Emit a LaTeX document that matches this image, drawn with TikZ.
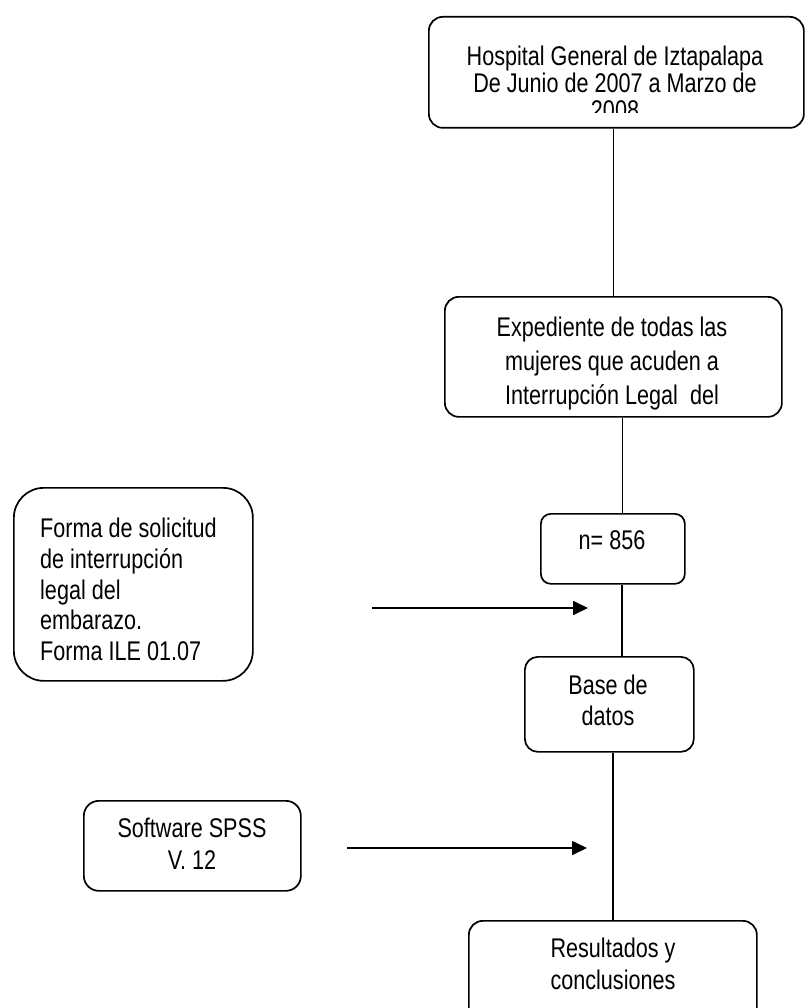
\documentclass[tikz,border=0pt]{standalone}
\usepackage{fontspec}
\setmainfont{Liberation Sans}[FakeStretch=0.80]
\usetikzlibrary{arrows.meta}
\begin{document}
\begin{tikzpicture}[x=1pt,y=-1pt,
  box/.style={draw, line width=1.7pt, rounded corners=#1, inner sep=0pt,
    anchor=north west},
  box/.default=13pt,
  txt/.style={inner sep=0pt, anchor=north, align=center,
    font=\fontsize{27}{#1}\selectfont},
  txt/.default=33,
  wire/.style={line width=1.7pt},
  feed/.style={line width=1.7pt, -{Triangle[length=15pt,width=14pt]}}]
\useasboundingbox (0,0) rectangle (804,1008);

% boxes of the main column
\node[box=14pt, minimum width=375pt, minimum height=111pt] (hosp) at (428,16) {};
\node[box=14pt, minimum width=337pt, minimum height=120pt] (exp) at (444,296) {};
\node[box=10pt, minimum width=144pt, minimum height=70pt] (n) at (540,513) {};
\node[box=13pt, minimum width=169pt, minimum height=95pt] (base) at (524,656) {};
\node[box=14pt, minimum width=288pt, minimum height=110pt] (res) at (468,920) {};

% side boxes
\node[box=30pt, minimum width=239pt, minimum height=193pt] (forma) at (13,487) {};
\node[box=15pt, minimum width=217pt, minimum height=90pt] (soft) at (83,800) {};

% texts
\begin{scope}
  \clip (430,18) rectangle (801,113);
  \node[txt=27] (hospT) at (615,46) {Hospital General de Iztapalapa\\De Junio de 2007 a Marzo de\\2008};
\end{scope}
\node[txt=34] (expT) at (612,317) {Expediente de todas las\\mujeres que acuden a\\Interrupción Legal\ \ del};
\node[txt] (nT) at (612,530) {n= 856};
\node[txt=31] (baseT) at (608,675) {Base de\\datos};
\node[txt=32] (resT) at (613,938) {Resultados y\\conclusiones};
\node[txt=30.7, anchor=north west, align=left] (formaT) at (40,518) {Forma de solicitud\\de interrupción\\legal del\\embarazo.\\Forma ILE 01.07};
\node[txt=32] (softT) at (192,818) {Software SPSS\\V. 12};

% vertical flow line
\draw[wire] (exp.north |- hosp.south) -- (exp.north);
\draw[wire] ([xshift=9pt]exp.south) -- ([xshift=9pt]exp.south |- n.north);
\draw[wire] ([xshift=9pt]n.south) -- ([xshift=9pt]n.south |- base.north);
\draw[wire] (res.north |- base.south) -- (res.north);

% input arrows
\coordinate (a1s) at (372,608);
\coordinate (a1e) at (588,608);
\coordinate (a2s) at (347,848);
\coordinate (a2e) at (587,848);
\draw[feed] (a1s) -- (a1e);
\draw[feed] (a2s) -- (a2e);
\end{tikzpicture}
\end{document}
